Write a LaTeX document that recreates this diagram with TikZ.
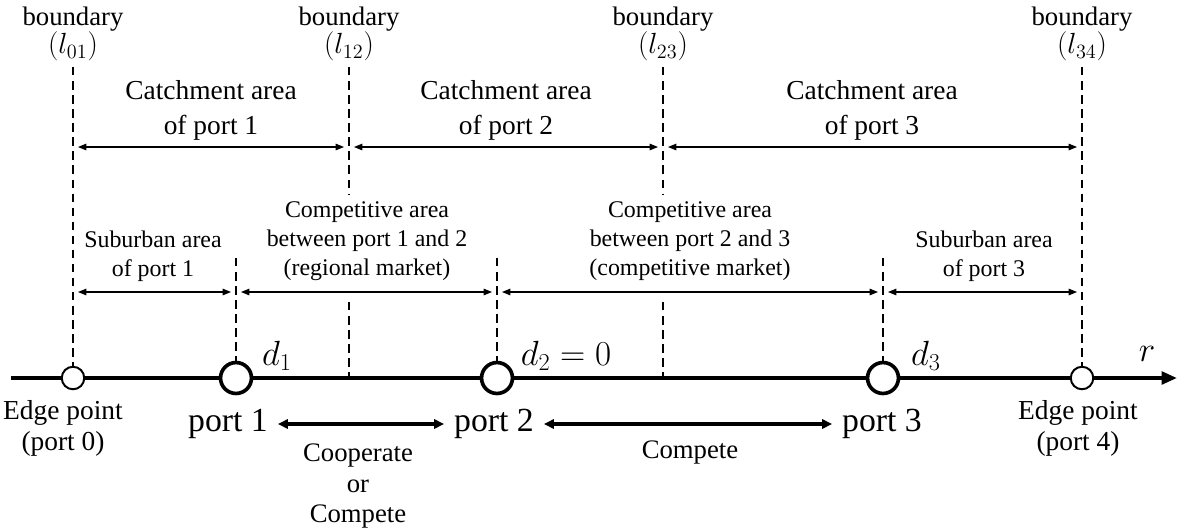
\documentclass[tikz,border=0pt]{standalone}
\usepackage{fontspec}
\setmainfont{Liberation Serif}
\usetikzlibrary{arrows.meta}
\tikzset{
  bnd/.style={line width=1.6pt, dash pattern=on 6pt off 4pt},
  span/.style={line width=0.9pt, shorten <=3.5pt, shorten >=3.5pt,
    {Triangle[length=6pt,width=4.6pt]}-{Triangle[length=6pt,width=4.6pt]}},
  rel/.style={line width=2.2pt, {Triangle[length=7pt,width=6.5pt]}-{Triangle[length=7pt,width=6.5pt]}},
  axis/.style={line width=2.6pt, -{Triangle[length=11pt,width=9pt]}},
  edgept/.style={circle, draw, line width=1.4pt, fill=white, minimum size=16pt, inner sep=0pt},
  portpt/.style={circle, draw, line width=2.6pt, fill=white, minimum size=22pt, inner sep=0pt},
  bndlbl/.style={font=\fontsize{19}{20}\selectfont, align=center, inner sep=0pt},
  catlbl/.style={font=\fontsize{19.5}{25}\selectfont, align=center, inner sep=0pt},
  arealbl/.style={font=\fontsize{17}{20.5}\selectfont, align=center, inner sep=0pt},
  edgelbl/.style={font=\fontsize{19.5}{22}\selectfont, align=center, inner sep=0pt},
  portlbl/.style={font=\fontsize{24}{26}\selectfont, inner sep=0pt},
  rellbl/.style={font=\fontsize{19}{22}\selectfont, align=center, inner sep=0pt},
  mathlbl/.style={font=\fontsize{24}{26}\selectfont, inner sep=0pt},
}
\newcommand{\bndmath}[1]{{\fontsize{22}{20}\selectfont$(l_{#1})$}}
\begin{document}
\begin{tikzpicture}[x=0.025cm,y=-0.025cm]
\useasboundingbox (0,0) rectangle (1177,529);

% the r axis
\coordinate (ax0) at (11,378);
\coordinate (ax1) at (1177,378);
\draw[axis] (ax0) -- (ax1);

% boundary lines l01 .. l34
\coordinate (t01) at (73,67);
\coordinate (t12) at (349,67);
\coordinate (t23) at (663,67);
\coordinate (t34) at (1082,67);
\coordinate (m12) at (349,194);
\coordinate (m23) at (663,194);
\coordinate (u12) at (349,302);
\coordinate (u23) at (663,302);
\coordinate (a12) at (349,378);
\coordinate (a23) at (663,378);

% port markers on the axis
\node[edgept] (e0) at (73,378) {};
\node[portpt] (p1) at (236,378) {};
\node[portpt] (p2) at (497,378) {};
\node[portpt] (p3) at (883,378) {};
\node[edgept] (e4) at (1082,378) {};

\draw[bnd] (t01) -- (e0.north);
\draw[bnd] (t12) -- (m12);
\draw[bnd] (u12) -- (a12);
\draw[bnd] (t23) -- (m23);
\draw[bnd] (u23) -- (a23);
\draw[bnd] (t34) -- (e4.north);

\coordinate (q1) at (236,258);
\coordinate (q2) at (497,258);
\coordinate (q3) at (883,258);
\draw[bnd] (q1) -- (p1.north);
\draw[bnd] (q2) -- (p2.north);
\draw[bnd] (q3) -- (p3.north);

% boundary labels
\node[bndlbl] (lb01) at (73,34) {boundary\\\bndmath{01}};
\node[bndlbl] (lb12) at (349,34) {boundary\\\bndmath{12}};
\node[bndlbl] (lb23) at (663,34) {boundary\\\bndmath{23}};
\node[bndlbl] (lb34) at (1082,34) {boundary\\\bndmath{34}};

% catchment areas
\coordinate (c01) at (73,147);
\coordinate (c12) at (349,147);
\coordinate (c23) at (663,147);
\coordinate (c34) at (1082,147);
\draw[span] (c01) -- (c12);
\draw[span] (c12) -- (c23);
\draw[span] (c23) -- (c34);
\node[catlbl] (ca1) at (211,110) {Catchment area\\of port 1};
\node[catlbl] (ca2) at (506,110) {Catchment area\\of port 2};
\node[catlbl] (ca3) at (872,110) {Catchment area\\of port 3};

% suburban and competitive areas
\coordinate (s01) at (73,292);
\coordinate (s1) at (236,292);
\coordinate (s2) at (497,292);
\coordinate (s3) at (883,292);
\coordinate (s34) at (1082,292);
\draw[span] (s01) -- (s1);
\draw[span] (s1) -- (s2);
\draw[span] (s2) -- (s3);
\draw[span] (s3) -- (s34);
\node[arealbl] (sa1) at (153,256) {Suburban area\\of port 1};
\node[arealbl] (cm12) at (367,241) {Competitive area\\between port 1 and 2\\(regional market)};
\node[arealbl] (cm23) at (690,241) {Competitive area\\between port 2 and 3\\(competitive market)};
\node[arealbl] (sa3) at (984,256) {Suburban area\\of port 3};

% distances and axis name
\node[mathlbl] (d1) at (277,356) {$d_1$};
\node[mathlbl] (d2) at (566,356) {$d_2=0$};
\node[mathlbl] (d3) at (926,356) {$d_3$};
\node[mathlbl] (rr) at (1147,354) {$r$};

% names below the axis
\node[edgelbl] (n0) at (63,428) {Edge point\\(port 0)};
\node[edgelbl] (n4) at (1078,428) {Edge point\\(port 4)};
\node[portlbl] (n1) at (228,424) {port 1};
\node[portlbl] (n2) at (494,424) {port 2};
\node[portlbl] (n3) at (882,424) {port 3};

\draw[rel] ([xshift=7pt]n1.east) -- ([xshift=-7pt]n2.west);
\draw[rel] ([xshift=7pt]n2.east) -- ([xshift=-7pt]n3.west);
\node[rellbl] (r12) at (358,486) {Cooperate\\or\\Compete};
\node[rellbl] (r23) at (690,452) {Compete};
\end{tikzpicture}
\end{document}
